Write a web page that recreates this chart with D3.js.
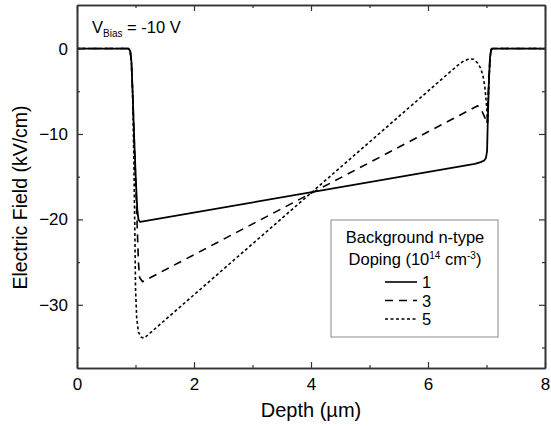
<!DOCTYPE html>
<html>
<head>
<meta charset="utf-8">
<script src="https://cdn.jsdelivr.net/npm/d3@7"></script>
<style>
  body { margin: 0; background: #fff; }
  text { font-family: "Liberation Sans", Arial, sans-serif; fill: #000; }
</style>
</head>
<body>
<div id="chart"></div>
<script>
// depth in um, field in kV/cm
var depth1 = [0, 0.88, 0.91, 0.93, 0.95, 0.98, 1.01, 1.03, 1.05, 1.08, 6.8, 6.9, 6.96, 6.99, 7.01, 7.02, 7.04, 7.06, 7.08, 7.1, 8];
var field1 = [0, 0, -0.3, -1.5, -5, -11, -16, -18.8, -20, -20.3, -13.5, -13.3, -13.1, -12.8, -12, -9, -4, -1, -0.1, 0, 0];

var depth3 = [0, 0.88, 0.91, 0.93, 0.95, 0.98, 1.01, 1.03, 1.05, 1.07, 1.12, 6.85, 6.92, 6.98, 7.01, 7.02, 7.04, 7.06, 7.08, 7.1, 8];
var field3 = [0, 0, -0.3, -1.5, -5, -11, -17, -21, -25, -26.8, -27.3, -6.7, -7.3, -8.2, -8.8, -7, -3.5, -1, -0.1, 0, 0];

var depth5 = [0, 0.88, 0.91, 0.93, 0.95, 0.97, 0.99, 1.0, 1.02, 1.05, 1.1, 1.15, 1.25, 6.4, 6.5, 6.6, 6.7, 6.78, 6.85, 6.9, 6.94, 6.97, 6.99, 7.01, 7.02, 7.03, 7.05, 7.07, 7.09, 8];
var field5 = [0, 0, -0.3, -1.5, -5, -12, -22, -28, -31.5, -33.2, -33.8, -33.9, -33.3, -2.6, -2.0, -1.5, -1.2, -1.25, -1.7, -2.3, -3.2, -4.4, -5.8, -7.5, -8.8, -6, -2.5, -0.6, 0, 0];

var legendLabels = ["1", "3", "5"];
var dashes = [null, "8,6", "3,2.5"];

var xMajor = [0, 2, 4, 6, 8];
var xMinor = [1, 3, 5, 7];
var yMajor = [0, -10, -20, -30];
var yMinor = [-5, -15, -25, -35];

var width = 551, height = 427;
var margin = {left: 77, top: 5, right: 6, bottom: 59};
var w = width - margin.left - margin.right;
var h = height - margin.top - margin.bottom;

var svg = d3.select("#chart").append("svg")
    .attr("width", width)
    .attr("height", height);

var g = svg.append("g")
    .attr("transform", "translate(" + margin.left + "," + margin.top + ")");

var x = d3.scaleLinear().domain([0, 8]).range([0, w]);
var y = d3.scaleLinear().domain([-37.4, 5.1]).range([h, 0]);

//curves
var series = [[depth1, field1], [depth3, field3], [depth5, field5]];
var line = d3.line()
    .x(function(d) { return x(d[0]); })
    .y(function(d) { return y(d[1]); });

series.forEach(function(s, i) {
  var pts = s[0].map(function(d, j) { return [d, s[1][j]]; });
  g.append("path")
      .datum(pts)
      .attr("d", line)
      .attr("fill", "none")
      .attr("stroke", "#000")
      .attr("stroke-width", i == 0 ? 1.8 : 1.6)
      .attr("stroke-linejoin", "round")
      .attr("stroke-dasharray", dashes[i]);
});

//axes, ticks point inward on all four sides
function styleAxis(sel) {
  sel.selectAll(".domain").attr("stroke", "#333").attr("stroke-width", 1.6);
  sel.selectAll(".tick line").attr("stroke", "#333").attr("stroke-width", 1.2);
  sel.selectAll("text").attr("font-size", "17px").attr("font-family", "Liberation Sans, Arial, sans-serif").attr("fill", "#000");
}

g.append("g").attr("transform", "translate(0," + h + ")")
    .call(d3.axisBottom(x).tickValues(xMajor).tickSize(-6).tickPadding(10).tickSizeOuter(0))
    .call(styleAxis);
g.append("g").attr("transform", "translate(0," + h + ")")
    .call(d3.axisBottom(x).tickValues(xMinor).tickSize(-3).tickFormat("").tickSizeOuter(0))
    .call(styleAxis);
g.append("g")
    .call(d3.axisTop(x).tickValues(xMajor).tickSize(-6).tickFormat("").tickSizeOuter(0))
    .call(styleAxis);
g.append("g")
    .call(d3.axisTop(x).tickValues(xMinor).tickSize(-3).tickFormat("").tickSizeOuter(0))
    .call(styleAxis);

g.append("g")
    .call(d3.axisLeft(y).tickValues(yMajor).tickSize(-6).tickPadding(9).tickSizeOuter(0))
    .call(styleAxis);
g.append("g")
    .call(d3.axisLeft(y).tickValues(yMinor).tickSize(-3).tickFormat("").tickSizeOuter(0))
    .call(styleAxis);
g.append("g").attr("transform", "translate(" + w + ",0)")
    .call(d3.axisRight(y).tickValues(yMajor).tickSize(-6).tickFormat("").tickSizeOuter(0))
    .call(styleAxis);
g.append("g").attr("transform", "translate(" + w + ",0)")
    .call(d3.axisRight(y).tickValues(yMinor).tickSize(-3).tickFormat("").tickSizeOuter(0))
    .call(styleAxis);

//axis titles
g.append("text")
    .attr("x", w / 2)
    .attr("y", h + 49)
    .attr("text-anchor", "middle")
    .attr("font-size", "20px")
    .text("Depth (\u00b5m)");

g.append("text")
    .attr("transform", "translate(" + (-50) + "," + (h / 2 + 11) + ") rotate(-90)")
    .attr("text-anchor", "middle")
    .attr("font-size", "19.5px")
    .text("Electric Field (kV/cm)");

//bias annotation
var bias = g.append("text")
    .attr("x", 15)
    .attr("y", 28)
    .attr("font-size", "16.5px");
bias.append("tspan").text("V");
bias.append("tspan").attr("font-size", "10px").attr("dy", 4).text("Bias");
bias.append("tspan").attr("dy", -4).text(" = -10 V");

//legend
var lx = 331 - margin.left, ly = 220 - margin.top;
var legend = g.append("g").attr("transform", "translate(" + lx + "," + ly + ")");
legend.append("rect")
    .attr("width", 167)
    .attr("height", 117)
    .attr("fill", "#fff")
    .attr("stroke", "#888")
    .attr("stroke-width", 1);

legend.append("text")
    .attr("x", 84).attr("y", 23)
    .attr("text-anchor", "middle")
    .attr("font-size", "16.5px")
    .text("Background n-type");

var dop = legend.append("text")
    .attr("x", 84).attr("y", 45)
    .attr("text-anchor", "middle")
    .attr("font-size", "16.5px");
dop.append("tspan").text("Doping (10");
dop.append("tspan").attr("font-size", "10px").attr("dy", -6).text("14");
dop.append("tspan").attr("dy", 6).text(" cm");
dop.append("tspan").attr("font-size", "10px").attr("dy", -6).text("-3");
dop.append("tspan").attr("dy", 6).text(")");

legendLabels.forEach(function(lab, i) {
  var yy = 62 + i * 18.5;
  legend.append("line")
      .attr("x1", 54).attr("x2", 86)
      .attr("y1", yy).attr("y2", yy)
      .attr("stroke", "#000")
      .attr("stroke-width", 1.6)
      .attr("stroke-dasharray", dashes[i]);
  legend.append("text")
      .attr("x", 91).attr("y", yy + 6)
      .attr("font-size", "16.5px")
      .text(lab);
});
</script>
</body>
</html>
